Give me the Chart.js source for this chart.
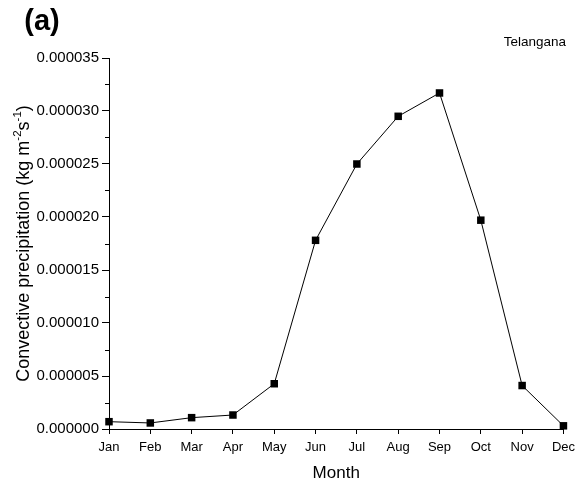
<!DOCTYPE html>
<html>
<head>
<meta charset="utf-8">
<script src="https://cdn.jsdelivr.net/npm/chart.js@4/dist/chart.umd.min.js"></script>
<style>
  html, body { margin: 0; padding: 0; background: #fff; }
  canvas { display: block; }
</style>
</head>
<body>
<canvas id="c" width="581" height="486"></canvas>
<script>
// Monthly mean convective precipitation, Telangana (kg m^-2 s^-1)
const months = ['Jan', 'Feb', 'Mar', 'Apr', 'May', 'Jun', 'Jul', 'Aug', 'Sep', 'Oct', 'Nov', 'Dec'];
const precipitation = [0.00000069, 0.00000057, 0.00000107, 0.00000132, 0.00000427, 0.0000178,
                       0.0000250, 0.0000295, 0.0000317, 0.0000197, 0.0000041, 0.0000003];
const yTicks = [0, 0.000005, 0.000010, 0.000015, 0.000020, 0.000025, 0.000030, 0.000035];
const yMinorTicks = [0.0000025, 0.0000075, 0.0000125, 0.0000175, 0.0000225, 0.0000275, 0.0000325];

const FONT = "'Liberation Sans', Arial, Helvetica, sans-serif";

// Minor ticks, panel letter, region name and axis titles
const annotations = {
  id: 'annotations',
  afterDraw(chart) {
    const ctx = chart.ctx;
    const y = chart.scales.y;
    const x = chart.scales.x;
    ctx.save();
    ctx.strokeStyle = '#000';
    ctx.lineWidth = 1;
    yMinorTicks.forEach(v => {
      const py = Math.round(y.getPixelForValue(v)) + 0.5;
      ctx.beginPath();
      ctx.moveTo(y.right - 4, py);
      ctx.lineTo(y.right, py);
      ctx.stroke();
    });

    ctx.fillStyle = '#000';
    ctx.textBaseline = 'middle';

    ctx.font = `bold 29px ${FONT}`;
    ctx.textAlign = 'center';
    ctx.fillText('(a)', 42, 22);

    ctx.font = `13.5px ${FONT}`;
    ctx.textAlign = 'right';
    ctx.fillText('Telangana', 566, 42);

    ctx.font = `17px ${FONT}`;
    ctx.textAlign = 'center';
    ctx.fillText('Month', (x.left + x.right) / 2, 473);

    // Rotated y-axis title with superscript exponents
    const parts = [
      { t: 'Convective precipitation (kg m', sup: false },
      { t: '-2', sup: true },
      { t: 's', sup: false },
      { t: '-1', sup: true },
      { t: ')', sup: false }
    ];
    const mainFont = `18px ${FONT}`;
    const supFont = `11.5px ${FONT}`;
    let total = 0;
    parts.forEach(p => {
      ctx.font = p.sup ? supFont : mainFont;
      p.w = ctx.measureText(p.t).width;
      total += p.w;
    });
    ctx.translate(24, (y.top + y.bottom) / 2);
    ctx.rotate(-Math.PI / 2);
    ctx.textAlign = 'left';
    let cx = -total / 2;
    parts.forEach(p => {
      ctx.font = p.sup ? supFont : mainFont;
      ctx.fillText(p.t, cx, p.sup ? -6.5 : 0);
      cx += p.w;
    });
    ctx.restore();
  }
};

new Chart(document.getElementById('c'), {
  type: 'line',
  data: {
    labels: months,
    datasets: [{
      data: precipitation,
      borderColor: '#000',
      borderWidth: 1,
      backgroundColor: '#000',
      pointStyle: 'rect',
      pointRadius: 5.3,
      pointBorderWidth: 0,
      pointBackgroundColor: '#000',
      tension: 0,
      clip: false
    }]
  },
  options: {
    responsive: false,
    animation: false,
    devicePixelRatio: 1,
    layout: { padding: { top: 58, right: 16, left: 0, bottom: 0 } },
    plugins: { legend: { display: false }, tooltip: { enabled: false } },
    scales: {
      x: {
        type: 'category',
        offset: false,
        afterFit(s) { s.height = 57; },
        border: { display: true, color: '#000', width: 1 },
        grid: { display: true, drawOnChartArea: false, drawTicks: true, tickLength: 5, color: '#000' },
        ticks: { color: '#000', font: { family: FONT, size: 13 }, padding: 6, maxRotation: 0, autoSkip: false }
      },
      y: {
        min: 0,
        max: 0.000035,
        afterFit(s) { s.width = 109; },
        afterBuildTicks(s) { s.ticks = yTicks.map(v => ({ value: v })); },
        border: { display: true, color: '#000', width: 1 },
        grid: { display: true, drawOnChartArea: false, drawTicks: true, tickLength: 7, color: '#000' },
        ticks: {
          color: '#000',
          font: { family: FONT, size: 15 },
          padding: 3,
          callback: v => Number(v).toFixed(6)
        }
      }
    }
  },
  plugins: [annotations]
});
</script>
</body>
</html>
